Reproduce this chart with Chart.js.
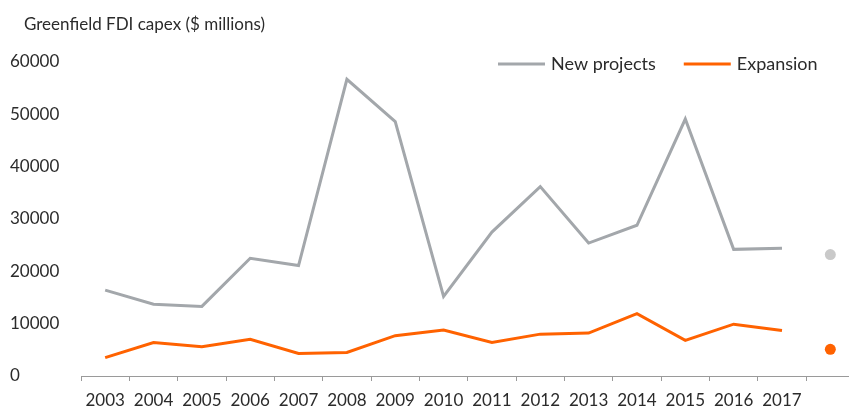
<!DOCTYPE html>
<html>
<head>
<meta charset="utf-8">
<script src="https://cdn.jsdelivr.net/npm/chart.js@4.4.1/dist/chart.umd.min.js"></script>
<style>
    html, body { margin: 0; padding: 0; background: #fff; overflow: hidden; }
    #wrap { width: 860px; height: 409px; }
</style>
</head>
<body>
<div id="wrap"><canvas id="fdiChart" width="860" height="409"></canvas></div>
<script>
// Greenfield FDI capex, $ millions
const years = ['2003', '2004', '2005', '2006', '2007', '2008', '2009', '2010',
               '2011', '2012', '2013', '2014', '2015', '2016', '2017', ''];
const newProjects = [16400, 13700, 13300, 22500, 21100, 56700, 48600, 15200,
                     27500, 36200, 25400, 28800, 49100, 24200, 24400];
const expansion = [3500, 6400, 5600, 7000, 4300, 4500, 7700, 8800,
                   6400, 8000, 8200, 11900, 6800, 9900, 8700];
// latest year shown as a single dot
const newProjectsLatest = 23200;
const expansionLatest = 5100;
const yTicks = [0, 10000, 20000, 30000, 40000, 50000, 60000];

const FONT = 'Lato, "Open Sans", sans-serif';
const TEXT = '#2b2b2b';
const GREY = '#a3a7ab';
const GREY_DOT = '#c9c9c9';
const ORANGE = '#ff6200';

function buildSeries(label, values, latest, lineColor, dotColor) {
    const last = values.length;
    return {
        label: label,
        data: values.concat([latest]),
        borderColor: lineColor,
        backgroundColor: lineColor,
        borderWidth: 3,
        tension: 0,
        pointRadius: values.map(() => 0).concat([5.5]),
        pointBackgroundColor: values.map(() => lineColor).concat([dotColor]),
        pointBorderWidth: 0,
        segment: {
            borderColor: ctx => ctx.p1DataIndex === last ? 'transparent' : lineColor
        }
    };
}

// title and legend drawn on the canvas
const headerPlugin = {
    id: 'header',
    afterDraw(chart) {
        const ctx = chart.ctx;
        ctx.save();
        ctx.fillStyle = TEXT;
        ctx.textBaseline = 'middle';
        ctx.font = '17px ' + FONT;
        ctx.fillText('Greenfield FDI capex ($ millions)', 24, 25);

        ctx.font = '18px ' + FONT;
        let x = 498;
        const y = 64;
        chart.data.datasets.forEach(ds => {
            ctx.strokeStyle = ds.borderColor;
            ctx.lineWidth = 3;
            ctx.beginPath();
            ctx.moveTo(x, y);
            ctx.lineTo(x + 47, y);
            ctx.stroke();
            ctx.fillStyle = TEXT;
            ctx.fillText(ds.label, x + 53, y);
            x += 53 + ctx.measureText(ds.label).width + 28;
        });
        ctx.restore();
    }
};

new Chart(document.getElementById('fdiChart'), {
    type: 'line',
    data: {
        labels: years,
        datasets: [
            buildSeries('New projects', newProjects, newProjectsLatest, GREY, GREY_DOT),
            buildSeries('Expansion', expansion, expansionLatest, ORANGE, ORANGE)
        ]
    },
    options: {
        responsive: false,
        animation: false,
        events: [],
        layout: { padding: { left: 10, right: 1, top: 62, bottom: 0 } },
        plugins: {
            legend: { display: false },
            tooltip: { enabled: false }
        },
        scales: {
            x: {
                offset: true,
                grid: {
                    offset: true,
                    drawOnChartArea: false,
                    drawTicks: true,
                    tickLength: 5,
                    color: '#9a9a9a'
                },
                border: { color: '#9a9a9a', width: 1 },
                ticks: {
                    color: TEXT,
                    font: { family: FONT, size: 17 },
                    padding: 9,
                    maxRotation: 0,
                    autoSkip: false
                },
                afterFit(scale) { scale.height = 33; }
            },
            y: {
                min: 0,
                max: 60000,
                grid: { display: false },
                border: { display: false },
                afterBuildTicks(scale) {
                    scale.ticks = yTicks.map(v => ({ value: v }));
                },
                ticks: {
                    color: TEXT,
                    font: { family: FONT, size: 17 },
                    crossAlign: 'far',
                    padding: 0,
                    callback: v => String(v)
                },
                afterFit(scale) { scale.width = 71; }
            }
        }
    },
    plugins: [headerPlugin]
});
</script>
</body>
</html>
